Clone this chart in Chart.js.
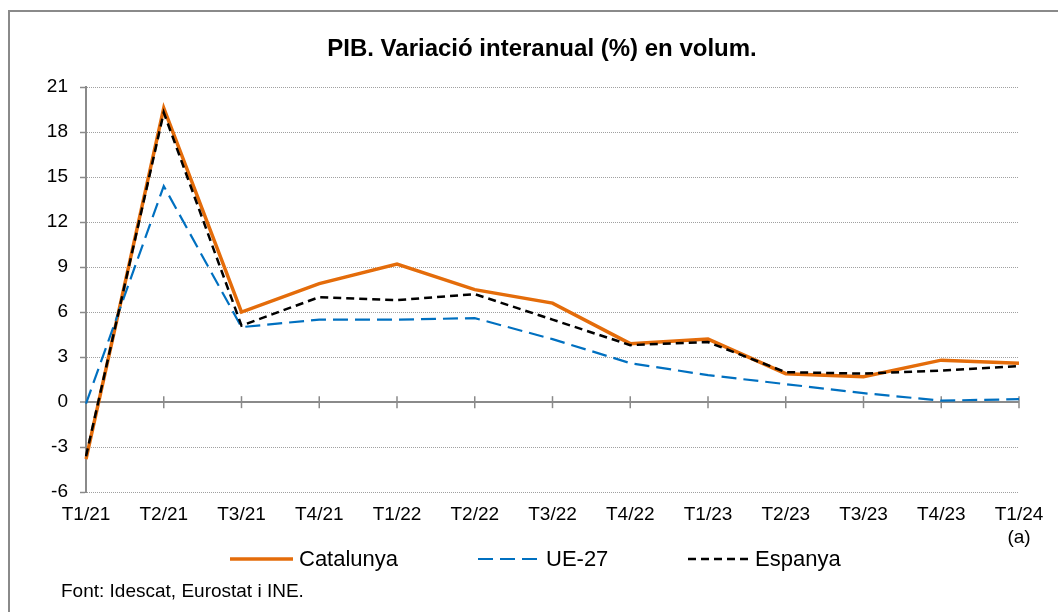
<!DOCTYPE html>
<html>
<head>
<meta charset="utf-8">
<script src="https://cdn.jsdelivr.net/npm/chart.js@4.4.1/dist/chart.umd.min.js"></script>
<style>
  html, body { margin: 0; padding: 0; background: #ffffff; }
  #wrap { position: relative; width: 1058px; height: 612px; }
  canvas { display: block; }
</style>
</head>
<body>
<div id="wrap"><canvas id="chart" width="1058" height="612"></canvas></div>
<script>
// ---- Data ----
const categories = ['T1/21', 'T2/21', 'T3/21', 'T4/21', 'T1/22', 'T2/22', 'T3/22', 'T4/22', 'T1/23', 'T2/23', 'T3/23', 'T4/23', ['T1/24', '(a)']];
const catalunya = [-3.8, 19.6, 6.0, 7.9, 9.2, 7.5, 6.6, 3.9, 4.2, 1.9, 1.7, 2.8, 2.6];
const ue27      = [-0.1, 14.4, 5.0, 5.5, 5.5, 5.6, 4.2, 2.6, 1.8, 1.2, 0.6, 0.1, 0.2];
const espanya   = [-3.6, 19.3, 5.1, 7.0, 6.8, 7.2, 5.5, 3.8, 4.0, 2.0, 1.9, 2.1, 2.4];
const seriesNames = ['Catalunya', 'UE-27', 'Espanya'];
const yTicks = { min: -6, max: 21, step: 3 };
const titleText = 'PIB. Variació interanual (%) en volum.';
const sourceText = 'Font: Idescat, Eurostat i INE.';

const FONT = "'Liberation Sans', Arial, Helvetica, sans-serif";
const AXIS_GRAY = '#8a8a8a';
const GRID_GRAY = '#a0a0a0';

Chart.defaults.font.family = FONT;
Chart.defaults.color = '#000000';

// Zero-line category tick marks
const zeroTicks = {
  id: 'zeroTicks',
  beforeDatasetsDraw(chart) {
    const { ctx, scales: { x, y } } = chart;
    const y0 = y.getPixelForValue(0);
    ctx.save();
    ctx.strokeStyle = AXIS_GRAY;
    ctx.lineWidth = 1.5;
    for (let i = 0; i < categories.length; i++) {
      const px = x.getPixelForValue(i);
      ctx.beginPath();
      ctx.moveTo(px, y0 - 6);
      ctx.lineTo(px, y0 + 6);
      ctx.stroke();
    }
    ctx.restore();
  }
};

// Legend row, source note and frame
const decorations = {
  id: 'decorations',
  afterDraw(chart) {
    const { ctx } = chart;
    ctx.save();
    // frame (top + left)
    ctx.strokeStyle = AXIS_GRAY;
    ctx.lineWidth = 2;
    ctx.beginPath();
    ctx.moveTo(9, 612);
    ctx.lineTo(9, 11);
    ctx.lineTo(1058, 11);
    ctx.stroke();

    // legend
    const legendY = 559;
    const items = [
      { x0: 230, x1: 293, tx: 299 },
      { x0: 478, x1: 540, tx: 546 },
      { x0: 688, x1: 749, tx: 755 }
    ];
    const byLabel = {};
    chart.data.datasets.forEach(d => { byLabel[d.label] = d; });
    ctx.font = '22px ' + FONT;
    ctx.textBaseline = 'middle';
    ctx.textAlign = 'left';
    seriesNames.forEach((name, i) => {
      const d = byLabel[name];
      const it = items[i];
      ctx.strokeStyle = d.borderColor;
      ctx.lineWidth = d.borderWidth;
      ctx.setLineDash(d.borderDash || []);
      ctx.beginPath();
      ctx.moveTo(it.x0, legendY);
      ctx.lineTo(it.x1, legendY);
      ctx.stroke();
      ctx.setLineDash([]);
      ctx.fillStyle = '#000000';
      ctx.fillText(name, it.tx, legendY + 1);
    });

    // source
    ctx.font = '19px ' + FONT;
    ctx.fillStyle = '#000000';
    ctx.fillText(sourceText, 61, 592);
    ctx.restore();
  }
};

new Chart(document.getElementById('chart'), {
  type: 'line',
  data: {
    labels: categories,
    datasets: [
      {
        label: seriesNames[0], data: catalunya,
        borderColor: '#E46C0A', backgroundColor: '#E46C0A',
        borderWidth: 3.5, pointRadius: 0, tension: 0, order: 3
      },
      {
        label: seriesNames[1], data: ue27,
        borderColor: '#0070C0', backgroundColor: '#0070C0',
        borderWidth: 2.2, borderDash: [15, 7], pointRadius: 0, tension: 0, order: 2
      },
      {
        label: seriesNames[2], data: espanya,
        borderColor: '#000000', backgroundColor: '#000000',
        borderWidth: 2.5, borderDash: [8, 5], pointRadius: 0, tension: 0, order: 1
      }
    ]
  },
  options: {
    responsive: false,
    animation: false,
    layout: { padding: { left: 40, right: 14, top: 0, bottom: 51 } },
    plugins: {
      legend: { display: false },
      tooltip: { enabled: false },
      title: {
        display: true,
        text: titleText,
        color: '#000000',
        font: { family: FONT, size: 24, weight: 'bold', lineHeight: 1.2 },
        padding: { top: 35, bottom: 23.2 }
      }
    },
    scales: {
      x: {
        offset: false,
        grid: { display: false, drawTicks: false },
        border: { display: false },
        afterFit(scale) { scale.paddingLeft = 0; scale.paddingRight = 39; },
        ticks: {
          maxRotation: 0, autoSkip: false, padding: 11.6,
          color: '#000000',
          font: { family: FONT, size: 19, lineHeight: 1.2 }
        }
      },
      y: {
        min: yTicks.min, max: yTicks.max,
        afterFit(scale) { scale.width = 46; scale.paddingTop = 0; scale.paddingBottom = 0; },
        ticks: {
          stepSize: yTicks.step, padding: 12, color: '#000000',
          font: { family: FONT, size: 19, lineHeight: 1.2 }
        },
        border: {
          display: true, color: AXIS_GRAY, width: 2,
          dash: (c) => (c.tick && c.tick.value === 0) ? [] : [1, 1]
        },
        grid: {
          drawTicks: true, tickLength: 6, tickColor: AXIS_GRAY, tickWidth: 1.5,
          color: (c) => (c.tick && c.tick.value === 0) ? AXIS_GRAY : GRID_GRAY,
          lineWidth: (c) => (c.tick && c.tick.value === 0) ? 2 : 1
        }
      }
    }
  },
  plugins: [zeroTicks, decorations]
});
</script>
</body>
</html>
